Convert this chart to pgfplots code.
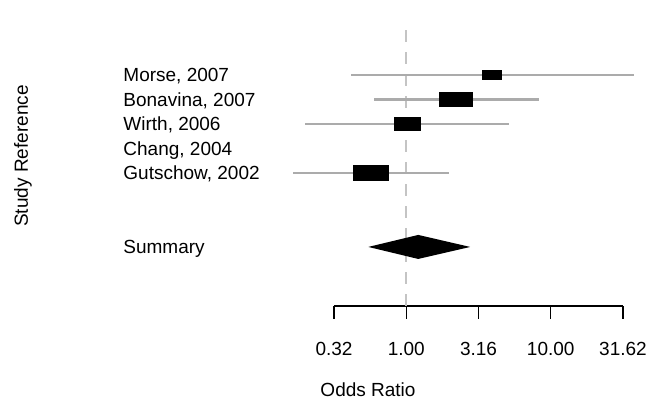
\documentclass[border=0pt]{standalone}
\usepackage{pgfplots}
\pgfplotsset{compat=1.18}
\usepackage{fontspec}
\setmainfont{Liberation Sans}
\definecolor{cigray}{HTML}{ABABAB}
\definecolor{zerogray}{HTML}{C4C4C4}
\begin{document}
\fontsize{19bp}{23bp}\selectfont
\begin{tikzpicture}
\useasboundingbox (0,0) rectangle (649bp,405bp);
\begin{axis}[
  at={(334bp,99bp)}, anchor=south west,
  scale only axis, width=289bp, height=286bp,
  xmode=log, xmin=0.31623, xmax=31.623,
  ymin=-4.43, ymax=7.24,
  clip=false,
  axis x line*=bottom, axis y line=none,
  x axis line style={line width=1.3bp, black, -},
  xtick={0.31623,1,3.1623,10,31.623},
  xticklabels={0.32,1.00,3.16,10.00,31.62},
  xtick style={line width=1.3bp, black},
  tick align=outside, major tick length=13bp,
  xticklabel style={font=\fontsize{19bp}{23bp}\selectfont, yshift=-17bp},
  /pgf/number format/assume math mode=true,
  xminorticks=false,
]
% zero line
\addplot[zerogray, line width=2bp, dash pattern=on 12bp off 10bp] coordinates {(1,-4.43) (1,7.24)};
% confidence intervals
\addplot[cigray, line width=2.2bp] coordinates {(0.416,5) (37.8,5)};
\addplot[cigray, line width=2.2bp] coordinates {(0.601,4) (8.33,4)};
\addplot[cigray, line width=2.2bp] coordinates {(0.200,3) (5.16,3)};
\addplot[cigray, line width=2.2bp] coordinates {(0.165,1) (1.99,1)};
% boxes
\addplot[fill=black, draw=none] coordinates {(3.36,4.79) (4.62,4.79) (4.62,5.21) (3.36,5.21)} -- cycle;
\addplot[fill=black, draw=none] coordinates {(1.69,3.70) (2.91,3.70) (2.91,4.30) (1.69,4.30)} -- cycle;
\addplot[fill=black, draw=none] coordinates {(0.826,2.73) (1.27,2.73) (1.27,3.27) (0.826,3.27)} -- cycle;
\addplot[fill=black, draw=none] coordinates {(0.430,0.67) (0.763,0.67) (0.763,1.33) (0.430,1.33)} -- cycle;
% summary diamond
\addplot[fill=black, draw=none] coordinates {(0.546,-2.02) (1.21,-1.53) (2.77,-2.02) (1.21,-2.51)} -- cycle;
% study labels
\node[inner sep=0pt, anchor=base west, yshift=-6.7bp] at (axis cs:0.0110,5) {Morse, 2007};
\node[inner sep=0pt, anchor=base west, yshift=-6.7bp] at (axis cs:0.0110,4) {Bonavina, 2007};
\node[inner sep=0pt, anchor=base west, yshift=-6.7bp] at (axis cs:0.0110,3) {Wirth, 2006};
\node[inner sep=0pt, anchor=base west, yshift=-6.7bp] at (axis cs:0.0110,2) {Chang, 2004};
\node[inner sep=0pt, anchor=base west, yshift=-6.7bp] at (axis cs:0.0110,1) {Gutschow, 2002};
\node[inner sep=0pt, anchor=base west, yshift=-6.7bp] at (axis cs:0.0110,-2) {Summary};
\end{axis}
\node at (368bp,15bp) {Odds Ratio};
\node[rotate=90] at (23bp,249bp) {Study Reference};
\end{tikzpicture}
\end{document}
